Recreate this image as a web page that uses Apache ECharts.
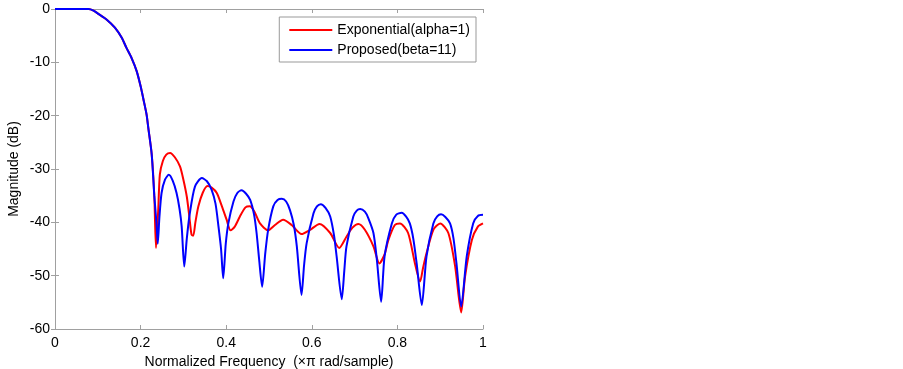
<!DOCTYPE html>
<html>
<head>
<meta charset="utf-8">
<script src="https://cdn.jsdelivr.net/npm/echarts@6/dist/echarts.min.js"></script>
<style>
html, body { margin: 0; padding: 0; background: #fff; }
#chart { width: 903px; height: 369px; }
</style>
</head>
<body>
<div id="chart"></div>
<script>
// shared main lobe (both windows overlap here)
var lobeFreq = [0, 0.04, 0.078, 0.090, 0.101, 0.121, 0.140, 0.156, 0.167, 0.179, 0.191, 0.201, 0.206, 0.214, 0.218, 0.226, 0.232];
var lobeMag  = [0, 0, 0, -0.3, -0.9, -2.0, -3.5, -5.4, -7.3, -9.2, -11.7, -14.8, -16.7, -19.8, -22.3, -27.3, -35];

// Exponential(alpha=1) side lobes
var expFreq = [0.236, 0.241, 0.245, 0.252, 0.260, 0.269, 0.280, 0.292, 0.300, 0.308, 0.314, 0.319, 0.323, 0.328, 0.335,
  0.345, 0.356, 0.366, 0.378, 0.390, 0.401, 0.410, 0.420, 0.432, 0.445, 0.455, 0.466, 0.479, 0.498, 0.514,
  0.533, 0.553, 0.576, 0.596, 0.618, 0.643, 0.664, 0.681, 0.695, 0.709, 0.724, 0.744, 0.758, 0.770, 0.779,
  0.794, 0.806, 0.825, 0.841, 0.853, 0.860, 0.868, 0.884, 0.900, 0.919, 0.935, 0.949, 0.958, 0.974, 0.988, 1.0];
var expMag = [-44.8, -38, -31, -28.5, -27.3, -27.0, -27.8, -29.5, -32, -35.2, -39, -42.3, -42.5, -40, -37.0,
  -34.5, -33.2, -33.5, -34.5, -37, -39.5, -41.5, -40.8, -38.9, -37.2, -37.0, -38, -40.2, -41.5, -40.5,
  -39.5, -40.5, -42.2, -41.4, -40.3, -42.0, -44.8, -42.7, -41, -40.3, -41.4, -44.5, -47.7, -46, -43.3,
  -40.5, -40.2, -42.0, -47.7, -51.1, -48.5, -45.8, -41.4, -40.2, -42.0, -48.3, -56.9, -50.2, -43.3, -40.8, -40.2];

// Proposed(beta=11) side lobes
var propFreq = [0.237, 0.240, 0.244, 0.249, 0.257, 0.266, 0.275, 0.284, 0.291, 0.296, 0.302, 0.308, 0.315, 0.327, 0.343,
  0.355, 0.366, 0.375, 0.382, 0.388, 0.393, 0.399, 0.405, 0.417, 0.426, 0.436, 0.446, 0.456, 0.465, 0.471,
  0.477, 0.484, 0.491, 0.498, 0.510, 0.520, 0.530, 0.540, 0.549, 0.558, 0.565, 0.576, 0.582, 0.588, 0.604,
  0.612, 0.621, 0.632, 0.643, 0.652, 0.658, 0.670, 0.676, 0.681, 0.697, 0.705, 0.713, 0.724, 0.732, 0.744,
  0.752, 0.762, 0.770, 0.787, 0.797, 0.810, 0.820, 0.829, 0.837, 0.845, 0.857, 0.868, 0.884, 0.893, 0.902,
  0.912, 0.923, 0.931, 0.938, 0.949, 0.962, 0.977, 0.988, 1.0];
var propMag = [-40, -44.0, -39, -34.5, -32, -31.1, -32.2, -34.5, -37.5, -40.8, -48.3, -43, -38.3, -33.3, -31.7,
  -32.3, -33.9, -36.5, -40.8, -45, -50.5, -44, -40.2, -36.1, -34.5, -34.0, -34.6, -35.8, -38.5, -42.0,
  -47, -52.1, -46, -41.4, -37.0, -35.8, -35.6, -36.1, -37.7, -40.5, -44.5, -53.6, -48, -43.9, -38.3,
  -37.0, -36.6, -37.3, -38.9, -42.5, -46.4, -54.4, -49, -44.5, -38.9, -37.8, -37.5, -38.0, -39.2, -42.0,
  -47, -54.9, -46.4, -40.2, -38.6, -38.2, -38.9, -40.2, -43, -47.7, -55.5, -46.4, -40.2, -38.9, -38.5,
  -39.0, -40.2, -43, -47.7, -55.8, -46.4, -40.2, -38.8, -38.6];

function pairs(fs, ms) {
  var out = [];
  for (var i = 0; i < fs.length; i++) out.push([fs[i], ms[i]]);
  return out;
}

var chart = echarts.init(document.getElementById('chart'));
var axisCol = '#a0a0a0';
var font = 'Arial, "Liberation Sans", sans-serif';

var option = {
  backgroundColor: '#fff',
  animation: false,
  textStyle: { fontFamily: font },
  grid: { left: 55, right: 420, top: 9, bottom: 40, containLabel: false, outerBoundsMode: 'none' },
  legend: {
    orient: 'vertical',
    right: 427,
    top: 17,
    padding: [6, 6, 5, 9],
    itemWidth: 43,
    itemHeight: 14,
    itemGap: 6,
    itemStyle: { opacity: 0 },
    backgroundColor: '#fff',
    borderColor: '#999',
    borderWidth: 1,
    borderRadius: 0,
    textStyle: { fontSize: 14, color: '#000', fontFamily: font },
    data: ['Exponential(alpha=1)', 'Proposed(beta=11)']
  },
  xAxis: [{
    type: 'value', min: 0, max: 1, interval: 0.2,
    name: 'Normalized Frequency  (×π rad/sample)',
    nameLocation: 'middle', nameGap: 26,
    nameTextStyle: { fontSize: 14, color: '#000' },
    axisLine: { show: true, onZero: false, lineStyle: { color: axisCol } },
    axisTick: { inside: true, length: 4, lineStyle: { color: axisCol } },
    axisLabel: { fontSize: 14, color: '#000', margin: 7,
      formatter: function (v) { return String(Math.round(v * 10) / 10); } },
    splitLine: { show: false }
  }, {
    type: 'value', min: 0, max: 1, interval: 0.2, position: 'top',
    axisLine: { show: true, lineStyle: { color: axisCol } },
    axisTick: { inside: true, length: 4, lineStyle: { color: axisCol } },
    axisLabel: { show: false },
    splitLine: { show: false }
  }],
  yAxis: [{
    type: 'value', min: -60, max: 0, interval: 10,
    name: 'Magnitude (dB)',
    nameLocation: 'middle', nameGap: 34,
    nameTextStyle: { fontSize: 14, color: '#000' },
    axisLine: { show: true, onZero: false, lineStyle: { color: axisCol } },
    axisTick: { inside: true, length: 4, lineStyle: { color: axisCol } },
    axisLabel: { fontSize: 14, color: '#000', margin: 5 },
    splitLine: { show: false }
  }, {
    type: 'value', min: -60, max: 0, interval: 10, position: 'right',
    axisLine: { show: true, lineStyle: { color: axisCol } },
    axisTick: { inside: true, length: 4, lineStyle: { color: axisCol } },
    axisLabel: { show: false },
    splitLine: { show: false }
  }],
  series: [{
    name: 'Exponential(alpha=1)',
    type: 'line',
    symbol: 'none',
    smooth: 0.25,
    clip: true,
    color: '#ff0000',
    lineStyle: { width: 2, color: '#ff0000' },
    data: pairs(lobeFreq.concat(expFreq), lobeMag.concat(expMag))
  }, {
    name: 'Proposed(beta=11)',
    type: 'line',
    symbol: 'none',
    smooth: 0.25,
    clip: true,
    color: '#0000ff',
    lineStyle: { width: 2, color: '#0000ff' },
    data: pairs(lobeFreq.concat(propFreq), lobeMag.concat(propMag))
  }]
};
chart.setOption(option);
</script>
</body>
</html>
